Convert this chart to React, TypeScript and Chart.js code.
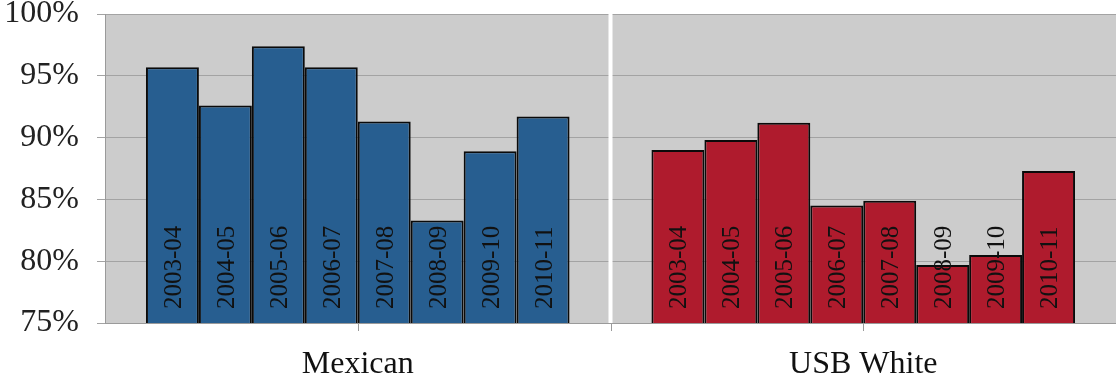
import React, { useEffect, useRef } from 'react';
import { Chart, registerables } from 'chart.js';

Chart.register(...registerables);

const groups = ['Mexican', 'USB White'];
const years = ['2003-04', '2004-05', '2005-06', '2006-07', '2007-08', '2008-09', '2009-10', '2010-11'];
const mexican = [95.7, 92.6, 97.4, 95.7, 91.3, 83.3, 88.9, 91.7];
const usbWhite = [89.0, 89.8, 91.2, 84.5, 84.9, 79.7, 80.5, 87.3];
const yMin = 75;
const yMax = 100;
const yStep = 5;
const groupColors = ['#275E90', '#AF1B2D'];

const SERIF = '"Liberation Serif", "Times New Roman", serif';

const bgPlugin = {
  id: 'plotBg',
  beforeDraw(chart: any) {
    const { ctx, chartArea: a } = chart;
    ctx.save();
    ctx.fillStyle = '#CCCCCC';
    ctx.fillRect(a.left, a.top, a.right - a.left, a.bottom - a.top);
    ctx.restore();
  },
  beforeDatasetsDraw(chart: any) {
    const { ctx, chartArea: a } = chart;
    const xs = chart.scales.x;
    const x0 = xs.getPixelForValue(0);
    const x1 = xs.getPixelForValue(1);
    const mid = (x0 + x1) / 2;
    ctx.save();
    ctx.fillStyle = '#FFFFFF';
    ctx.fillRect(mid - 2, a.top, 4, a.bottom - a.top);
    ctx.restore();
  },
  afterDraw(chart: any) {
    const { ctx, chartArea: a } = chart;
    const xs = chart.scales.x;
    const x0 = xs.getPixelForValue(0);
    const x1 = xs.getPixelForValue(1);
    const marks = [x0, (x0 + x1) / 2, x1];
    ctx.save();
    ctx.strokeStyle = '#9A9A9A';
    ctx.lineWidth = 1;
    marks.forEach((m) => {
      ctx.beginPath();
      ctx.moveTo(Math.round(m) + 0.5, a.bottom);
      ctx.lineTo(Math.round(m) + 0.5, a.bottom + 8);
      ctx.stroke();
    });
    ctx.restore();
  },
};

const labelPlugin = {
  id: 'barLabels',
  afterDatasetsDraw(chart: any) {
    const { ctx, chartArea: a } = chart;
    ctx.save();
    ctx.font = `25px ${SERIF}`;
    ctx.fillStyle = '#111111';
    ctx.textAlign = 'left';
    ctx.textBaseline = 'middle';
    chart.data.datasets.forEach((ds: any, i: number) => {
      const meta = chart.getDatasetMeta(i);
      meta.data.forEach((bar: any) => {
        ctx.save();
        ctx.translate(bar.x + 2, a.bottom - 14);
        ctx.rotate(-Math.PI / 2);
        ctx.fillText(ds.label, 0, 0);
        ctx.restore();
      });
    });
    ctx.restore();
  },
};

export default function App() {
  const ref = useRef<HTMLCanvasElement>(null);

  useEffect(() => {
    if (!ref.current) return;
    const chart = new Chart(ref.current, {
      type: 'bar',
      data: {
        labels: groups,
        datasets: years.map((y, i) => ({
          label: y,
          data: [mexican[i], usbWhite[i]],
          backgroundColor: groupColors,
          borderColor: '#0A0A0A',
          borderWidth: 2,
        })),
      },
      options: {
        animation: false,
        responsive: true,
        maintainAspectRatio: false,
        layout: { padding: { left: 0, right: 0, top: 0, bottom: 0 } },
        datasets: { bar: { categoryPercentage: 0.838, barPercentage: 1.0 } } as any,
        plugins: {
          legend: { display: false },
          tooltip: { enabled: false },
        },
        scales: {
          x: {
            grid: { display: false },
            border: { display: true, color: '#9A9A9A', width: 1 },
            ticks: {
              color: '#111111',
              font: { family: SERIF, size: 32, lineHeight: 1.2 },
              padding: 14,
              maxRotation: 0,
            },
            afterFit(scale: any) {
              scale.height = 54;
            },
          },
          y: {
            min: yMin,
            max: yMax,
            grid: { color: '#A3A3A3', lineWidth: 1, tickLength: 8, drawTicks: true },
            border: { display: true, color: '#9A9A9A', width: 1 },
            ticks: {
              stepSize: yStep,
              color: '#222222',
              font: { family: SERIF, size: 32, lineHeight: 0.9 },
              padding: 18,
              callback: (v: any) => `${v}%`,
            },
            afterFit(scale: any) {
              scale.width = 105;
              scale.paddingTop = 14;
              scale.paddingBottom = 0;
            },
          },
        },
      },
      plugins: [bgPlugin, labelPlugin],
    });
    return () => chart.destroy();
  }, []);

  return (
    <div style={{ position: 'fixed', left: 0, top: 0, width: 1116, height: 377 }}>
      <canvas ref={ref} />
    </div>
  );
}
